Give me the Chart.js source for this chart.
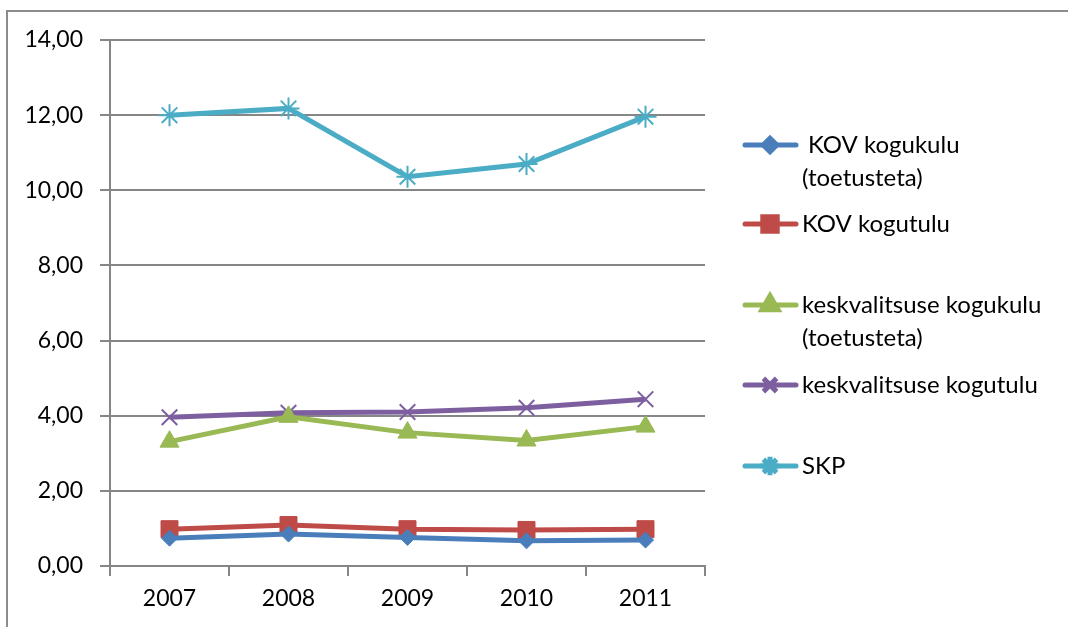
<!DOCTYPE html>
<html>
<head>
<meta charset="utf-8">
<script src="https://cdn.jsdelivr.net/npm/chart.js@4"></script>
<style>
  html, body { margin: 0; padding: 0; background: #fff; }
  #wrap { position: relative; width: 1068px; height: 627px; overflow: hidden; }
  #frame { position: absolute; left: 6px; top: 10px; width: 1100px; height: 700px;
           border-left: 2px solid #8c8c8c; border-top: 2px solid #8c8c8c; box-sizing: border-box; }
  canvas { position: absolute; left: 0; top: 0; }
</style>
</head>
<body>
<div id="wrap">
  <div id="frame"></div>
  <canvas id="c" width="1068" height="627"></canvas>
</div>
<script>
// Values
const years = ['2007', '2008', '2009', '2010', '2011'];
const kovKogukulu = [0.74, 0.85, 0.76, 0.67, 0.69];
const kovKogutulu = [0.98, 1.09, 0.98, 0.96, 0.98];
const kvKogukulu = [3.31, 3.97, 3.55, 3.34, 3.71];
const kvKogutulu = [3.96, 4.08, 4.10, 4.21, 4.44];
const skp = [12.0, 12.18, 10.36, 10.70, 11.96];

const FONT = 'Lato, "Open Sans", sans-serif';

const series = [
  { label: ['KOV kogukulu', '(toetusteta)'], data: kovKogukulu, color: '#4a7ebb', style: 'rectRot', r: 8, legendY: 145 },
  { label: ['KOV kogutulu'], data: kovKogutulu, color: '#be4b48', style: 'rect', r: 12, legendY: 224 },
  { label: ['keskvalitsuse kogukulu', '(toetusteta)'], data: kvKogukulu, color: '#98b954', style: 'triangle', r: 11, legendY: 305 },
  { label: ['keskvalitsuse kogutulu'], data: kvKogutulu, color: '#7d5fa0', style: 'crossRot', r: 11, legendY: 385 },
  { label: ['SKP'], data: skp, color: '#4bacc6', style: 'star', r: 11, legendY: 466 },
];

// legend drawn by hand, laid out like the spreadsheet legend on the right
const sideLegend = {
  id: 'sideLegend',
  afterDraw(chart) {
    const ctx = chart.ctx;
    ctx.save();
    chart.data.datasets.forEach((ds, i) => {
      const s = series[i];
      const y = s.legendY;
      ctx.strokeStyle = ds.borderColor;
      ctx.fillStyle = ds.borderColor;
      ctx.lineWidth = 5;
      ctx.lineCap = 'round';
      ctx.beginPath();
      ctx.moveTo(745, y);
      ctx.lineTo(796, y);
      ctx.stroke();
      ctx.lineCap = 'butt';
      Chart.helpers.drawPoint(ctx, {
        pointStyle: ds.pointStyle,
        radius: ds.pointRadius * 0.85,
        borderWidth: ds.pointBorderWidth,
      }, 770, y);
      ctx.fillStyle = '#000';
      ctx.font = '24px ' + FONT;
      ctx.textBaseline = 'middle';
      ctx.textAlign = 'left';
      s.label.forEach((t, k) => {
        ctx.fillText(t, i === 0 && k === 0 ? 808 : 802, y + k * 33);
      });
    });
    ctx.restore();
  },
};

new Chart(document.getElementById('c'), {
  type: 'line',
  data: {
    labels: years,
    datasets: series.map((s) => ({
      label: s.label.join(' '),
      data: s.data,
      borderColor: s.color,
      backgroundColor: s.color,
      pointBackgroundColor: s.color,
      pointBorderColor: s.color,
      borderWidth: 5,
      pointStyle: s.style,
      pointRadius: s.r,
      pointBorderWidth: (s.style === 'crossRot' || s.style === 'star') ? 2 : 1,
      tension: 0,
    })),
  },
  options: {
    responsive: false,
    animation: false,
    layout: { padding: { top: 40, right: 363, bottom: 0, left: 0 } },
    plugins: { legend: { display: false }, tooltip: { enabled: false } },
    scales: {
      x: {
        offset: true,
        grid: { offset: true, drawOnChartArea: false, color: '#868686', lineWidth: 2, tickLength: 10 },
        border: { color: '#868686', width: 2 },
        ticks: { color: '#000', font: { size: 23, family: FONT }, padding: 9 },
        afterFit(scale) { scale.height = 61; },
      },
      y: {
        min: 0,
        max: 14,
        grid: { color: '#868686', lineWidth: 2, tickLength: 10 },
        border: { color: '#868686', width: 2 },
        ticks: {
          stepSize: 2,
          color: '#000',
          font: { size: 23, family: FONT },
          padding: 17,
          callback: (v) => v.toFixed(2).replace('.', ','),
        },
        afterFit(scale) { scale.width = 110; },
      },
    },
  },
  plugins: [sideLegend],
});
</script>
</body>
</html>
